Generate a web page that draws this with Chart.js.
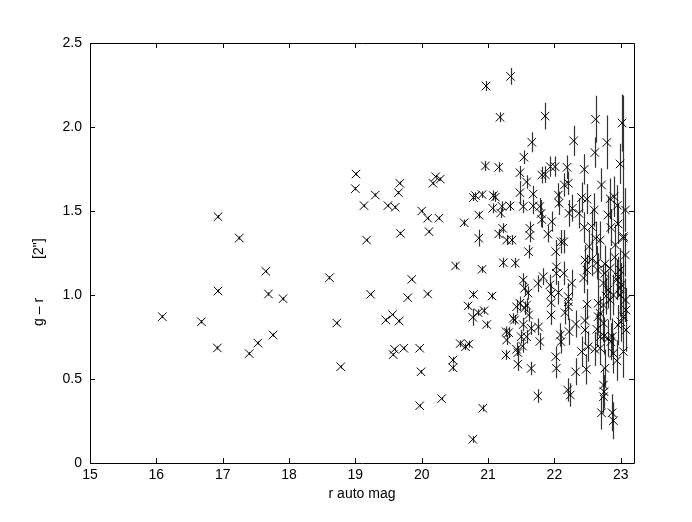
<!DOCTYPE html>
<html>
<head>
<meta charset="UTF-8">
<title>g - r vs r auto mag</title>
<script src="https://cdn.jsdelivr.net/npm/chart.js@4"></script>
<style>
    body { margin: 0; background: #fff; }
    #wrap { width: 692px; height: 522px; }
</style>
</head>
<body>
<div id="wrap"><canvas id="chart" width="692" height="522"></canvas></div>
<script>
// r auto mag, g - r colour [2"] and its 1-sigma error, one entry per source
const rMag = [
    16.09, 16.68, 16.93, 16.92, 16.93, 17.25, 17.40, 17.53, 17.65, 17.69,
    17.76, 17.91, 18.61, 18.72, 18.78, 19.01, 19.00, 19.30, 19.13, 19.17,
    19.23, 19.49, 19.60, 19.67, 19.65, 19.68, 19.46, 19.56, 19.66, 19.57,
    19.59, 19.73, 19.85, 19.79, 20.00, 20.09, 20.26, 20.11, 20.21, 20.17,
    20.28, 19.97, 19.99, 19.97, 20.09, 20.30, 20.47, 20.47, 20.51, 20.58,
    20.66, 20.71, 20.64, 20.70, 20.77, 20.78, 20.77, 20.85, 20.86, 20.86,
    20.78, 20.81, 20.91, 20.91, 20.92, 20.94, 20.97, 20.96, 20.98, 21.06,
    21.07, 21.08, 21.11, 21.16, 21.18, 21.19, 21.21, 21.16, 21.22, 21.28,
    21.36, 21.33, 21.34, 21.23, 21.41, 21.48, 21.48, 21.54, 21.58, 21.53,
    21.63, 21.63, 21.61, 21.66, 21.68, 21.68, 21.78, 21.80, 21.81, 21.81,
    21.86, 21.86, 21.90, 21.94, 22.01, 21.96, 22.06, 22.07, 22.15, 22.21,
    22.19, 22.29, 22.27, 22.22, 22.37, 22.41, 22.49, 22.45, 22.60, 22.45,
    22.56, 22.62, 22.61, 22.71, 22.79, 22.84, 22.90, 22.95, 22.96, 22.85,
    22.99, 23.02, 23.04, 22.10, 22.14, 22.02, 22.52, 22.62, 22.69, 22.46,
    22.56, 22.64, 22.76, 22.84, 22.91, 22.49, 22.65, 22.03, 22.03, 21.83,
    22.14, 22.44, 22.76, 22.96, 21.53, 21.55, 21.60, 21.75, 21.93, 21.95,
    21.95, 21.95, 22.06, 22.26, 22.21, 22.21, 22.21, 22.16, 22.49, 22.66,
    22.69, 22.74, 22.66, 22.94, 22.99, 22.99, 23.04, 21.43, 21.48, 21.58,
    21.61, 21.38, 22.32, 22.46, 22.74, 21.53, 21.76, 22.46, 22.22, 22.64,
    22.69, 22.75, 22.81, 22.85, 22.61, 22.69, 22.41, 22.51, 22.89, 22.94,
    22.87, 22.96, 23.00, 23.04, 22.76, 22.09, 22.10, 22.02, 22.03, 22.32,
    22.48, 21.78, 21.75, 22.20, 22.24, 22.74, 22.75, 22.74, 22.71, 22.87,
    22.89, 21.27, 21.31, 21.28, 21.40, 21.45, 21.43, 21.27, 21.45, 21.50,
    21.58, 21.52, 21.65, 21.65, 21.55, 22.74, 22.81, 22.89, 22.84, 23.07,
    23.01, 22.78, 22.81, 23.07, 23.07, 22.99, 23.08, 23.08, 22.92, 23.04
];
const grColour = [
    0.871, 0.841, 1.024, 0.685, 1.466, 1.339, 0.651, 0.714, 1.141, 1.006,
    0.762, 0.978, 1.103, 0.833, 0.573, 1.720, 1.633, 1.595, 1.532, 1.327,
    1.004, 1.532, 1.522, 1.665, 1.609, 1.367, 0.851, 0.883, 0.845, 0.645,
    0.677, 0.683, 1.093, 0.984, 1.500, 1.457, 1.457, 1.377, 1.704, 1.665,
    1.690, 0.683, 0.543, 0.341, 1.006, 0.383, 0.613, 0.567, 1.173, 0.711,
    0.692, 0.708, 1.430, 0.935, 0.867, 1.003, 0.141, 0.895, 1.476, 1.338,
    1.580, 1.592, 1.598, 1.153, 0.326, 0.907, 2.244, 1.768, 0.824, 0.994,
    1.516, 1.592, 1.583, 1.760, 2.058, 1.488, 1.528, 1.363, 1.397, 1.327,
    1.327, 1.530, 2.301, 1.192, 1.190, 1.728, 1.609, 1.820, 1.673, 1.527,
    1.397, 1.354, 1.258, 1.909, 1.601, 1.530, 1.527, 1.485, 1.449, 1.714,
    1.717, 2.065, 1.363, 1.764, 1.764, 1.437, 1.595, 1.546, 1.655, 1.665,
    1.760, 1.918, 1.516, 1.486, 1.486, 1.580, 1.570, 1.748, 1.506, 1.403,
    1.408, 2.046, 1.848, 1.655, 1.908, 1.573, 1.585, 1.534, 1.423, 1.402,
    1.780, 2.024, 1.338, 1.317, 1.317, 1.258, 1.288, 1.338, 1.327, 1.208,
    1.212, 1.192, 1.185, 1.159, 1.224, 1.149, 1.149, 1.168, 1.129, 1.109,
    1.129, 1.101, 1.129, 1.107, 1.089, 1.040, 1.012, 1.068, 1.060, 1.006,
    0.954, 0.881, 1.014, 1.070, 0.990, 0.960, 0.930, 0.895, 0.946, 0.951,
    0.891, 0.940, 0.871, 1.089, 1.040, 1.000, 0.871, 0.930, 0.951, 0.940,
    0.881, 0.861, 0.827, 0.848, 0.832, 0.824, 0.810, 0.792, 0.782, 0.796,
    0.752, 0.756, 0.742, 0.722, 0.677, 0.683, 0.663, 0.692, 0.653, 0.609,
    0.752, 0.821, 0.841, 0.663, 0.564, 0.762, 0.722, 0.633, 0.564, 0.543,
    0.558, 0.723, 0.399, 0.435, 0.405, 0.464, 0.424, 0.395, 0.299, 0.299,
    0.252, 0.782, 0.776, 0.732, 0.851, 0.657, 0.677, 0.643, 0.588, 0.752,
    0.752, 0.696, 0.563, 0.802, 0.921, 1.071, 1.030, 1.000, 0.970, 0.970,
    1.060, 0.994, 1.476, 1.506, 1.238, 1.149, 0.911, 0.792, 1.298, 1.348
];
const grError = [
    0.01, 0.01, 0.01, 0.01, 0.01, 0.01, 0.01, 0.01, 0.01, 0.01,
    0.01, 0.01, 0.01, 0.01, 0.01, 0.01, 0.01, 0.01, 0.01, 0.01,
    0.01, 0.01, 0.01, 0.01, 0.01, 0.01, 0.01, 0.01, 0.01, 0.01,
    0.01, 0.01, 0.01, 0.01, 0.01, 0.01, 0.01, 0.01, 0.01, 0.01,
    0.01, 0.01, 0.01, 0.01, 0.01, 0.01, 0.02, 0.02, 0.02, 0.02,
    0.02, 0.02, 0.02, 0.02, 0.05, 0.02, 0.02, 0.02, 0.02, 0.05,
    0.02, 0.02, 0.02, 0.02, 0.02, 0.02, 0.03, 0.03, 0.02, 0.02,
    0.03, 0.03, 0.03, 0.03, 0.03, 0.03, 0.03, 0.03, 0.03, 0.03,
    0.03, 0.03, 0.05, 0.03, 0.03, 0.04, 0.07, 0.04, 0.04, 0.04,
    0.04, 0.04, 0.04, 0.06, 0.05, 0.05, 0.05, 0.08, 0.05, 0.05,
    0.05, 0.08, 0.05, 0.06, 0.06, 0.06, 0.07, 0.07, 0.07, 0.07,
    0.07, 0.09, 0.08, 0.08, 0.09, 0.09, 0.09, 0.09, 0.10, 0.09,
    0.10, 0.14, 0.09, 0.10, 0.16, 0.12, 0.12, 0.12, 0.12, 0.11,
    0.12, 0.17, 0.13, 0.07, 0.07, 0.07, 0.10, 0.10, 0.11, 0.09,
    0.10, 0.10, 0.11, 0.12, 0.12, 0.09, 0.10, 0.07, 0.07, 0.05,
    0.07, 0.09, 0.11, 0.12, 0.04, 0.04, 0.04, 0.05, 0.06, 0.06,
    0.06, 0.06, 0.07, 0.08, 0.08, 0.08, 0.08, 0.07, 0.09, 0.10,
    0.10, 0.11, 0.10, 0.12, 0.13, 0.13, 0.13, 0.04, 0.04, 0.04,
    0.04, 0.03, 0.08, 0.09, 0.11, 0.04, 0.05, 0.09, 0.08, 0.10,
    0.10, 0.11, 0.11, 0.11, 0.10, 0.10, 0.09, 0.09, 0.12, 0.12,
    0.11, 0.12, 0.12, 0.12, 0.11, 0.07, 0.07, 0.06, 0.06, 0.08,
    0.09, 0.05, 0.04, 0.07, 0.07, 0.10, 0.10, 0.10, 0.10, 0.11,
    0.11, 0.03, 0.03, 0.03, 0.03, 0.04, 0.04, 0.03, 0.04, 0.04,
    0.04, 0.04, 0.04, 0.04, 0.04, 0.11, 0.11, 0.12, 0.12, 0.13,
    0.13, 0.11, 0.11, 0.13, 0.13, 0.13, 0.13, 0.13, 0.12, 0.84
];
const xTicks = [15, 16, 17, 18, 19, 20, 21, 22, 23];
const yTicks = [0, 0.5, 1, 1.5, 2, 2.5];

const points = rMag.map((r, i) => ({ x: r, y: grColour[i], err: grError[i] }));

// matlab style box with inward ticks on all four sides
const boxPlugin = {
    id: "box",
    afterDraw(chart) {
        const { ctx, chartArea: a, scales } = chart;
        const t = 5;
        ctx.save();
        ctx.strokeStyle = "#000";
        ctx.lineWidth = 1;
        ctx.beginPath();
        ctx.rect(a.left + 0.5, a.top + 0.5, a.right - a.left, a.bottom - a.top);
        xTicks.forEach(v => {
            const px = Math.round(scales.x.getPixelForValue(v)) + 0.5;
            ctx.moveTo(px, a.bottom); ctx.lineTo(px, a.bottom - t);
            ctx.moveTo(px, a.top); ctx.lineTo(px, a.top + t);
        });
        yTicks.forEach(v => {
            const py = Math.round(scales.y.getPixelForValue(v)) + 0.5;
            ctx.moveTo(a.left, py); ctx.lineTo(a.left + t, py);
            ctx.moveTo(a.right, py); ctx.lineTo(a.right - t, py);
        });
        ctx.stroke();
        ctx.restore();
    }
};

// vertical error bars drawn under the markers
const errorBars = {
    id: "errorBars",
    beforeDatasetsDraw(chart) {
        const { ctx, scales, chartArea: a } = chart;
        ctx.save();
        ctx.beginPath();
        ctx.rect(a.left, a.top, a.right - a.left + 1, a.bottom - a.top + 1);
        ctx.clip();
        ctx.strokeStyle = "#333";
        ctx.lineWidth = 1.2;
        ctx.beginPath();
        points.forEach(p => {
            const px = Math.round(scales.x.getPixelForValue(p.x)) + 0.5;
            ctx.moveTo(px, scales.y.getPixelForValue(p.y - p.err));
            ctx.lineTo(px, scales.y.getPixelForValue(p.y + p.err));
        });
        ctx.stroke();
        ctx.restore();
    }
};

const font = { family: "'Liberation Sans', Arial, sans-serif", size: 14 };

new Chart(document.getElementById("chart"), {
    type: "scatter",
    data: {
        datasets: [{
            data: points,
            pointStyle: "crossRot",
            pointRadius: 6,
            pointBorderWidth: 1,
            borderColor: "#000",
            backgroundColor: "#000"
        }]
    },
    options: {
        responsive: false,
        animation: false,
        layout: { padding: { left: 0, top: 43, right: 58, bottom: 0 } },
        plugins: { legend: { display: false }, tooltip: { enabled: false } },
        scales: {
            x: {
                type: "linear",
                min: 15,
                max: 23.2,
                afterBuildTicks: axis => { axis.ticks = xTicks.map(v => ({ value: v })); },
                afterFit: axis => { axis.height = 59; },
                grid: { display: false, drawTicks: false },
                border: { display: false },
                ticks: { color: "#000", font: font, padding: 4, maxRotation: 0 },
                title: {
                    display: true, text: "r auto mag", color: "#000", font: font,
                    padding: { top: 0, bottom: 19 }
                }
            },
            y: {
                type: "linear",
                min: 0,
                max: 2.5,
                afterBuildTicks: axis => { axis.ticks = yTicks.map(v => ({ value: v })); },
                afterFit: axis => { axis.width = 90; },
                grid: { display: false, drawTicks: false },
                border: { display: false },
                ticks: { color: "#000", font: font, padding: 8 },
                title: {
                    display: true,
                    text: "g \u2013 r          [2\"]               ",
                    color: "#000", font: font,
                    padding: { top: 31, bottom: 0 }
                }
            }
        }
    },
    plugins: [errorBars, boxPlugin]
});
</script>
</body>
</html>
